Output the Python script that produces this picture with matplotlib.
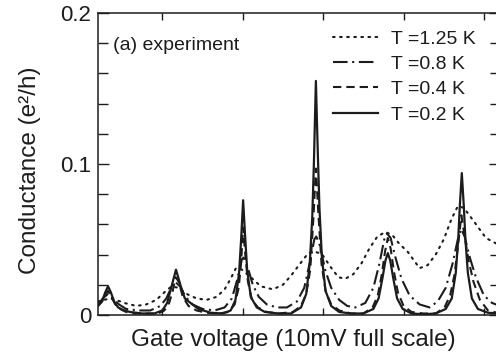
import matplotlib
matplotlib.use("Agg")
import matplotlib.pyplot as plt
from matplotlib.ticker import MultipleLocator, FixedLocator, NullFormatter, FixedFormatter

plt.rcParams['font.family'] = ['Liberation Sans', 'DejaVu Sans']

# Gate voltage in arbitrary units (0..100 across full scale)
x_02 = [0, 1, 1.8, 2.5, 3.2, 4, 5, 6.5, 8, 11, 14, 16, 17.2, 18.2, 19.4, 20.6, 21.6, 23, 25, 28, 31,
        33, 34.2, 35.1, 35.6, 36.1, 36.6, 37.1, 38, 39.5, 41.5, 45, 48, 50.5, 51.8, 52.7, 53.3, 53.7,
        54.2, 54.7, 55.1, 55.7, 56.6, 58, 60, 63, 66, 68.5, 69.8, 70.8, 71.5, 72.1, 72.7, 73.4, 74.4,
        75.8, 78, 81, 84, 86.5, 88, 89, 89.6, 90, 90.5, 91, 91.4, 92, 93, 94.5, 97, 100]
g_02 = [0.006, 0.009, 0.015, 0.019, 0.015, 0.009, 0.005, 0.003, 0.002, 0.001, 0.001, 0.003, 0.008,
        0.018, 0.030, 0.019, 0.011, 0.008, 0.004, 0.0015, 0.001,
        0.003, 0.010, 0.028, 0.050, 0.076, 0.052, 0.030, 0.012, 0.005, 0.002, 0.001, 0.001, 0.005,
        0.014, 0.035, 0.065, 0.100, 0.155, 0.105, 0.070, 0.038, 0.016, 0.006, 0.002, 0.001, 0.001,
        0.004, 0.011, 0.025, 0.036, 0.041, 0.036, 0.025, 0.011, 0.004, 0.001, 0.0005, 0.001, 0.004,
        0.011, 0.028, 0.050, 0.072, 0.094, 0.072, 0.050, 0.028, 0.011, 0.004, 0.0015, 0.001]

x_04 = [0, 1, 1.8, 2.5, 3.3, 4.3, 5.5, 7, 9, 12, 15, 16.5, 17.7, 18.6, 19.3, 20.1, 21.1, 22.5, 24.5,
        27, 30, 32.5, 34, 35, 35.6, 36.1, 36.7, 37.3, 38.3, 39.8, 42, 45, 48.5, 50.5, 51.8, 52.8, 53.6,
        54.2, 54.8, 55.6, 56.6, 58, 60, 63, 66, 68.3, 69.6, 70.6, 71.4, 72.1, 72.8, 73.6, 74.6, 76, 78,
        81, 84, 86.2, 87.6, 88.7, 89.6, 90.4, 91.2, 92.2, 93.4, 95, 97, 100]
g_04 = [0.006, 0.009, 0.013, 0.016, 0.012, 0.007, 0.004, 0.002, 0.001, 0.001, 0.001, 0.003, 0.008,
        0.016, 0.025, 0.022, 0.012, 0.006, 0.003, 0.0015, 0.001, 0.002, 0.007, 0.018, 0.035, 0.058,
        0.038, 0.022, 0.010, 0.005, 0.002, 0.001, 0.002, 0.006, 0.014, 0.030, 0.065, 0.097, 0.068,
        0.034, 0.016, 0.007, 0.003, 0.001, 0.001, 0.005, 0.013, 0.027, 0.042, 0.051, 0.044, 0.029,
        0.015, 0.006, 0.002, 0.001, 0.001, 0.005, 0.013, 0.027, 0.047, 0.066, 0.052, 0.036, 0.022,
        0.010, 0.003, 0.001]

x_08 = [0, 1.2, 2.5, 3.8, 5.2, 7, 10, 13, 15.5, 17, 18.2, 19.2, 20.4, 21.8, 23.5, 26, 29, 31.5, 33.3,
        34.7, 35.8, 36.2, 37.2, 38.5, 40, 42, 44.5, 47, 49.5, 51.3, 52.8, 53.8, 54.3, 55.2, 56.5, 58,
        60, 62, 64, 66.5, 68.5, 70, 71.2, 71.9, 72.8, 74, 75.5, 77.5, 80, 82.5, 84.5, 86.5, 88.2, 89.5,
        90.3, 91.2, 92.5, 94, 96, 98, 100]
g_08 = [0.007, 0.011, 0.014, 0.011, 0.007, 0.004, 0.003, 0.003, 0.006, 0.011, 0.018, 0.022, 0.019,
        0.012, 0.007, 0.004, 0.003, 0.005, 0.011, 0.024, 0.037, 0.038, 0.032, 0.020, 0.012, 0.007,
        0.005, 0.005, 0.009, 0.018, 0.036, 0.050, 0.052, 0.046, 0.030, 0.018, 0.010, 0.006, 0.005,
        0.008, 0.018, 0.034, 0.050, 0.054, 0.051, 0.038, 0.024, 0.013, 0.007, 0.005, 0.009, 0.018,
        0.034, 0.050, 0.057, 0.052, 0.038, 0.025, 0.013, 0.008, 0.006]

x_125 = [0, 1.5, 3, 4.5, 6.5, 9.5, 12, 14.5, 16.5, 18.3, 20, 22, 24.5, 27, 29.5, 31.5, 33, 34.3, 35.8,
         38, 40.5, 43.5, 46, 48, 50, 52.3, 54, 55.8, 57.8, 59.8, 61.5, 63.5, 65.5, 67.5, 69.5, 71.5,
         73.2, 75, 77, 80, 82, 84, 86, 88, 89.5, 91, 93.5, 96.5, 100]
g_125 = [0.009, 0.010, 0.011, 0.010, 0.008, 0.006, 0.007, 0.010, 0.015, 0.019, 0.018, 0.014, 0.011,
         0.010, 0.012, 0.017, 0.024, 0.031, 0.030, 0.025, 0.019, 0.017, 0.020, 0.026, 0.033, 0.041,
         0.042, 0.040, 0.032, 0.025, 0.024, 0.027, 0.034, 0.044, 0.052, 0.055, 0.053, 0.047, 0.042,
         0.031, 0.033, 0.040, 0.050, 0.064, 0.072, 0.071, 0.062, 0.051, 0.046]

labels = ['T =1.25 K', 'T =0.8 K', 'T =0.4 K', 'T =0.2 K']

ink = '#1c1c1c'
fig = plt.figure(figsize=(4.96, 3.58), dpi=100)
ax = fig.add_axes([98 / 496, 1 - 315 / 358, 402 / 496, 302 / 358])

ax.plot(x_125, g_125, color=ink, lw=1.5, linestyle=(0, (0.8, 2.6)), dash_capstyle='round', label=labels[0])
ax.plot(x_08, g_08, color=ink, lw=1.5, linestyle=(0, (7, 2.2, 1, 2.2)), label=labels[1])
ax.plot(x_04, g_04, color=ink, lw=1.5, linestyle=(0, (4, 2.4)), label=labels[2])
ax.plot(x_02, g_02, color=ink, lw=1.6, linestyle='-', label=labels[3])

ax.set_xlim(0, 100)
ax.set_ylim(0, 0.2)

ax.xaxis.set_major_locator(FixedLocator([16, 36, 56, 76, 96]))
ax.xaxis.set_major_formatter(NullFormatter())
ax.yaxis.set_major_locator(FixedLocator([0, 0.1, 0.2]))
ax.yaxis.set_major_formatter(FixedFormatter(['0', '0.1', '0.2']))
ax.yaxis.set_minor_locator(MultipleLocator(0.02))
ax.tick_params(axis='both', which='both', direction='in', top=True, right=True, color=ink, width=1.0)
ax.tick_params(axis='y', which='major', length=8, labelsize=16, pad=5, labelcolor=ink)
ax.tick_params(axis='y', which='minor', length=7)
ax.tick_params(axis='x', which='major', length=5)
for s in ax.spines.values():
    s.set_color(ink)
    s.set_linewidth(1.1)

ax.set_ylabel('Conductance (e²/h)', fontsize=17.5, color=ink)
ax.yaxis.set_label_coords(-0.168, 0.48)
ax.yaxis.label.set_verticalalignment('center')
ax.set_xlabel('Gate voltage (10mV full scale)', fontsize=17.5, color=ink)
ax.xaxis.set_label_coords(0.485, -0.083)
ax.xaxis.label.set_verticalalignment('center')

ax.text(0.037, 0.891, '(a) experiment', transform=ax.transAxes, fontsize=14,
        ha='left', va='center', color=ink)

leg = ax.legend(loc='upper left', bbox_to_anchor=(0.585, 0.944), frameon=False, fontsize=14,
                borderpad=0, borderaxespad=0, handlelength=2.3, handletextpad=0.67,
                labelspacing=0.4)
for t in leg.get_texts():
    t.set_color(ink)

fig.savefig('out.png', dpi=100)
